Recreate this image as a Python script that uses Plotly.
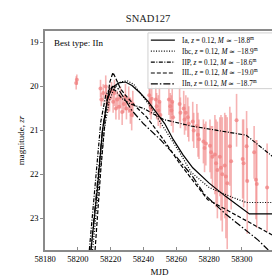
import plotly.graph_objects as go

# ---------------- data ----------------
obs_mjd = [58199.0, 58199.4, 58213.8, 58214.3, 58215.5, 58217.0, 58217.4, 58218.5, 58219.3, 58220.5,
           58221.5, 58222.3, 58223.2, 58224.0, 58225.1, 58226.0, 58227.0, 58228.0, 58229.0, 58229.6,
           58231.0, 58232.0, 58232.8, 58233.5, 58243.5, 58244.0, 58244.6, 58245.0, 58247.5, 58248.0,
           58249.0, 58249.7, 58250.3, 58255.5, 58256.3, 58257.0, 58257.5, 58258.0, 58262.0, 58262.5,
           58264.5, 58265.0, 58265.8, 58267.0, 58267.6, 58270.0, 58270.6, 58272.5, 58273.2, 58273.8,
           58276.5, 58277.2, 58278.0, 58280.5, 58281.2, 58282.0, 58283.5, 58284.2, 58285.0, 58286.5,
           58287.2, 58288.0, 58289.5, 58290.2, 58291.0, 58292.6, 58293.4, 58296.7, 58300.4, 58301.0,
           58302.8, 58303.2, 58307.4, 58308.5, 58309.0, 58315.3]
obs_mag = [19.92, 19.85, 20.05, 20.30, 20.15, 20.00, 20.22, 20.40, 20.27, 20.10,
           20.35, 20.15, 20.50, 20.30, 20.46, 20.25, 20.58, 20.40, 20.24, 20.50,
           20.30, 20.55, 20.65, 20.40, 20.20, 20.35, 20.50, 20.28, 20.30, 20.45,
           20.55, 20.35, 20.65, 20.30, 20.45, 20.55, 20.35, 20.70, 20.40, 20.60,
           20.50, 20.75, 20.60, 20.70, 20.85, 20.80, 21.00, 20.90, 21.10, 21.20,
           21.25, 21.40, 21.30, 21.35, 21.50, 21.60, 21.55, 21.75, 21.90, 21.60,
           21.85, 22.00, 21.80, 22.05, 22.20, 21.36, 21.70, 20.77, 21.65, 21.75,
           21.36, 22.15, 21.50, 22.12, 22.22, 22.30]
obs_err = [0.15, 0.12, 0.20, 0.15, 0.20, 0.25, 0.20, 0.20, 0.30, 0.20,
           0.25, 0.30, 0.25, 0.20, 0.30, 0.25, 0.30, 0.20, 0.30, 0.25,
           0.30, 0.30, 0.35, 0.30, 0.30, 0.30, 0.25, 0.35, 0.30, 0.30,
           0.35, 0.35, 0.30, 0.35, 0.30, 0.35, 0.30, 0.35, 0.40, 0.35,
           0.40, 0.35, 0.40, 0.45, 0.40, 0.45, 0.40, 0.50, 0.50, 0.45,
           0.50, 0.55, 0.50, 0.60, 0.60, 0.70, 0.90, 1.00, 1.10, 0.90,
           1.20, 1.30, 1.20, 1.40, 1.50, 0.90, 1.10, 0.60, 0.90, 1.00,
           0.80, 1.20, 0.60, 0.90, 1.00, 1.00]

ia_mjd = [58208, 58212, 58215, 58218, 58221, 58225, 58229, 58233, 58238, 58243, 58248, 58253,
          58258, 58264, 58270, 58280, 58290, 58304.5, 58319.5]
ia_mag = [23.72, 22.3, 21.0, 20.3, 20.02, 19.92, 19.9, 19.98, 20.15, 20.35, 20.6, 20.85,
          21.2, 21.55, 21.85, 22.2, 22.5, 22.9, 22.9]

ibc_mjd = [58209, 58213, 58216, 58219, 58222, 58226, 58230, 58234, 58239, 58245, 58250, 58256,
           58262, 58269, 58280, 58294.7, 58302.6, 58319.5]
ibc_mag = [23.72, 22.2, 21.0, 20.35, 20.05, 19.9, 19.87, 19.95, 20.2, 20.5, 20.8, 21.15,
           21.5, 21.95, 22.3, 22.53, 22.64, 22.64]

iip_mjd = [58207, 58211, 58214, 58217, 58220, 58223, 58227, 58232, 58240, 58252, 58269, 58302.6, 58319.5]
iip_mag = [23.72, 22.0, 20.8, 20.2, 20.02, 20.1, 20.28, 20.4, 20.5, 20.75, 20.9, 21.11, 21.62]

iil_mjd = [58210.5, 58214, 58217, 58219.5, 58221.4, 58223.5, 58226, 58229, 58235, 58242,
           58251.6, 58262, 58279, 58319.5]
iil_mag = [23.72, 21.9, 20.6, 19.9, 19.68, 19.85, 20.05, 20.2, 20.45, 20.7,
           21.18, 21.75, 22.57, 23.4]

iin_mjd = [58208, 58212, 58215, 58218, 58221, 58224, 58228, 58233, 58240, 58250, 58260, 58270,
           58277, 58290, 58300, 58310, 58316]
iin_mag = [23.72, 22.2, 21.0, 20.25, 20.0, 20.02, 20.25, 20.55, 20.85, 21.2, 21.6, 22.05,
           22.45, 22.9, 23.2, 23.5, 23.72]

model_labels = ["Ia", "Ibc", "IIP", "IIL", "IIn"]
model_absmag = ["18.8", "18.9", "18.6", "19.0", "18.7"]
redshift = "0.12"
x_ticks = [58180, 58200, 58220, 58240, 58260, 58280, 58300]
y_ticks = [19, 20, 21, 22, 23]

# ---------------- figure ----------------
FONT = "Liberation Serif"
dashes = ["solid", "1px,1.6px", "4px,1.5px,1px,1.5px", "4px,2px", "7px,2px,1.5px,2px"]
models = [(ia_mjd, ia_mag), (ibc_mjd, ibc_mag), (iip_mjd, iip_mag), (iil_mjd, iil_mag), (iin_mjd, iin_mag)]

fig = go.Figure()
fig.add_trace(go.Scatter(
    x=obs_mjd, y=obs_mag, mode="markers",
    marker=dict(color="rgba(240,128,128,0.75)", size=4),
    error_y=dict(type="data", array=obs_err, color="rgba(240,128,128,0.6)", thickness=1.6, width=0),
    showlegend=False))

for (mx, my), d in zip(models, dashes):
    fig.add_trace(go.Scatter(x=mx, y=my, mode="lines",
                             line=dict(color="black", width=1.2, dash=d), showlegend=False))

L, R, T, B = 28, 14, 23, 29
W = 280 - L - R
H = 280 - T - B

def px(xp):
    return (xp - L) / W

def py(yp):
    return 1 - (yp - T) / H

shapes = [dict(type="rect", xref="paper", yref="paper", x0=px(135), x1=px(265), y0=py(83), y1=py(25),
               line=dict(color="#d0d0d0", width=1), fillcolor="rgba(255,255,255,0.85)", layer="above")]
annotations = []
rows = [32.5, 44, 55.3, 66.7, 78]
for lab, m, d, yr in zip(model_labels, model_absmag, dashes, rows):
    shapes.append(dict(type="line", xref="paper", yref="paper", x0=px(138), x1=px(163), y0=py(yr), y1=py(yr),
                       line=dict(color="black", width=1.2, dash=d), layer="above"))
    annotations.append(dict(xref="paper", yref="paper", x=px(168), y=py(yr), xanchor="left", yanchor="middle",
                            showarrow=False,
                            text=f"{lab}, <i>z</i> = {redshift}, <i>M</i> ≃ −{m}<sup>m</sup>",
                            font=dict(family=FONT, size=7.2, color="black")))

annotations.append(dict(xref="paper", yref="paper", x=px(35), y=py(35), xanchor="left", yanchor="middle",
                        showarrow=False, text="Best type: IIn", font=dict(family=FONT, size=9, color="black")))

fig.update_layout(
    width=280, height=280,
    margin=dict(l=L, r=R, t=T, b=B),
    paper_bgcolor="white", plot_bgcolor="white",
    font=dict(family=FONT, size=9, color="black"),
    title=dict(text="SNAD127", x=0.5, xanchor="center", y=1 - 10 / 280, yanchor="middle",
               font=dict(family=FONT, size=10.5, color="#222")),
    shapes=shapes, annotations=annotations, showlegend=False,
)
fig.update_xaxes(range=[58180, 58319.5], tickvals=x_ticks, ticktext=[str(v) for v in x_ticks],
                 showgrid=False, zeroline=False, showline=True, mirror=True, linecolor="#8a8a8a", linewidth=1.6,
                 ticks="inside", ticklen=3, tickcolor="#8a8a8a", tickfont=dict(size=8.5),
                 title=dict(text="MJD", font=dict(size=9), standoff=6))
fig.update_yaxes(range=[23.72, 18.74], tickvals=y_ticks, ticktext=[str(v) for v in y_ticks],
                 showgrid=False, zeroline=False, showline=True, mirror=True, linecolor="#8a8a8a", linewidth=1.6,
                 ticks="outside", ticklen=3, tickcolor="#8a8a8a", tickfont=dict(size=8.5),
                 title=dict(text="magnitude, <i>zr</i>", font=dict(size=9), standoff=4))

fig.write_html("out.html")
